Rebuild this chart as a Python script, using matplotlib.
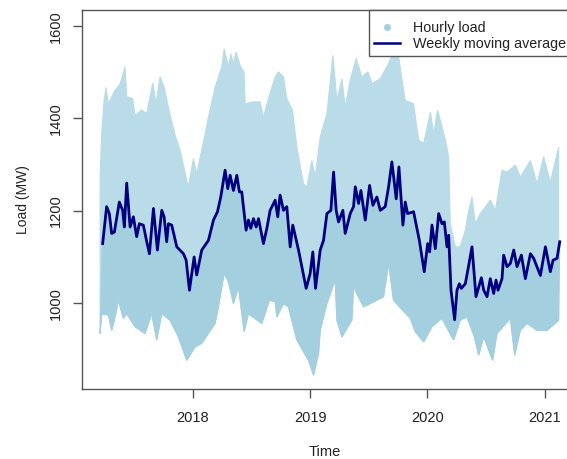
import matplotlib
matplotlib.use("Agg")
import matplotlib.pyplot as plt
from matplotlib.lines import Line2D

plt.rcParams["font.family"] = ["Liberation Sans", "DejaVu Sans"]

# Outline of the hourly load cloud
upper_t = [2017.21,2017.223,2017.243,2017.26,2017.28,2017.337,2017.38,2017.422,2017.436,2017.487,2017.507,2017.564,2017.607,2017.658,2017.686,2017.72,2017.755,2017.806,2017.849,2017.891,2017.948,2017.962,2018.005,2018.033,2018.105,2018.133,2018.19,2018.247,2018.267,2018.304,2018.324,2018.346,2018.369,2018.403,2018.437,2018.446,2018.517,2018.574,2018.602,2018.645,2018.702,2018.73,2018.773,2018.801,2018.85,2018.887,2018.943,2018.972,2019.015,2019.043,2019.086,2019.143,2019.194,2019.228,2019.271,2019.299,2019.342,2019.393,2019.441,2019.493,2019.527,2019.598,2019.669,2019.697,2019.754,2019.783,2019.811,2019.882,2019.925,2019.968,2020.025,2020.053,2020.087,2020.153,2020.181,2020.195,2020.238,2020.28,2020.323,2020.352,2020.38,2020.408,2020.451,2020.536,2020.579,2020.636,2020.679,2020.75,2020.792,2020.878,2020.935,2020.991,2021.048,2021.119]
upper_mw = [1280,1367,1439,1467,1432,1461,1475,1512,1447,1443,1407,1418,1411,1477,1432,1491,1468,1407,1364,1331,1266,1252,1313,1280,1367,1403,1468,1512,1551,1512,1540,1519,1544,1515,1501,1432,1436,1436,1403,1443,1490,1501,1490,1443,1418,1338,1259,1252,1309,1273,1360,1410,1537,1439,1486,1425,1483,1530,1490,1501,1476,1486,1519,1537,1537,1483,1439,1432,1353,1346,1414,1367,1418,1353,1317,1172,1122,1122,1158,1201,1230,1172,1194,1223,1201,1288,1284,1299,1273,1309,1259,1317,1262,1338]

lower_t = [2017.209,2017.223,2017.28,2017.308,2017.337,2017.365,2017.408,2017.436,2017.507,2017.592,2017.65,2017.692,2017.735,2017.806,2017.877,2017.948,2018.019,2018.076,2018.19,2018.218,2018.267,2018.304,2018.346,2018.389,2018.437,2018.474,2018.588,2018.653,2018.702,2018.716,2018.773,2018.815,2018.887,2018.986,2019.029,2019.072,2019.086,2019.143,2019.214,2019.228,2019.271,2019.356,2019.37,2019.456,2019.513,2019.626,2019.669,2019.711,2019.854,2019.897,2019.968,2020.039,2020.124,2020.223,2020.28,2020.337,2020.4,2020.437,2020.48,2020.556,2020.593,2020.707,2020.744,2020.792,2020.849,2020.935,2021.02,2021.119]
lower_mw = [934,977,974,941,970,1006,967,977,949,934,977,920,977,963,927,876,905,913,956,992,1064,1046,999,1035,938,977,956,1006,1003,970,999,992,920,876,844,891,941,999,1050,963,927,963,1035,992,999,1014,1086,1006,967,938,916,949,967,920,963,970,927,887,927,876,934,967,887,941,956,941,941,963]

# Weekly moving average
ma_t = [2017.231,2017.265,2017.288,2017.308,2017.331,2017.373,2017.402,2017.416,2017.436,2017.465,2017.493,2017.521,2017.544,2017.578,2017.607,2017.63,2017.664,2017.698,2017.735,2017.755,2017.777,2017.792,2017.82,2017.863,2017.92,2017.943,2017.971,2018.011,2018.033,2018.076,2018.133,2018.176,2018.21,2018.238,2018.275,2018.298,2018.318,2018.346,2018.375,2018.397,2018.417,2018.454,2018.474,2018.494,2018.517,2018.54,2018.56,2018.602,2018.631,2018.659,2018.702,2018.724,2018.744,2018.773,2018.801,2018.83,2018.852,2018.901,2018.966,2019.0,2019.023,2019.046,2019.069,2019.086,2019.114,2019.143,2019.177,2019.2,2019.222,2019.242,2019.279,2019.299,2019.342,2019.37,2019.385,2019.413,2019.433,2019.47,2019.507,2019.535,2019.569,2019.598,2019.64,2019.669,2019.697,2019.734,2019.757,2019.791,2019.811,2019.831,2019.882,2019.931,2019.973,2020.002,2020.019,2020.039,2020.067,2020.096,2020.124,2020.144,2020.167,2020.181,2020.201,2020.232,2020.252,2020.272,2020.289,2020.323,2020.352,2020.38,2020.414,2020.46,2020.48,2020.508,2020.536,2020.565,2020.585,2020.602,2020.636,2020.65,2020.679,2020.707,2020.736,2020.764,2020.801,2020.835,2020.878,2020.906,2020.963,2021.006,2021.048,2021.071,2021.105,2021.128]
ma_mw = [1129,1209,1194,1151,1154,1219,1201,1165,1260,1165,1187,1144,1172,1169,1133,1107,1205,1115,1201,1187,1133,1172,1169,1122,1107,1093,1028,1100,1061,1115,1136,1180,1198,1230,1288,1248,1277,1244,1277,1241,1241,1158,1180,1162,1183,1165,1183,1129,1162,1201,1223,1187,1234,1201,1209,1122,1169,1115,1032,1064,1111,1032,1079,1115,1136,1194,1201,1284,1201,1176,1201,1151,1194,1209,1252,1216,1244,1180,1255,1212,1230,1201,1209,1252,1306,1226,1295,1169,1219,1194,1198,1136,1068,1129,1111,1169,1118,1194,1172,1176,1122,1147,1028,964,1028,1042,1032,1042,1082,1122,1014,1055,1028,1014,1053,1021,1050,1028,1053,1104,1079,1086,1115,1079,1104,1053,1107,1097,1060,1122,1068,1093,1097,1133]

x_ticks = [2018, 2019, 2020, 2021]
y_ticks = [1000, 1200, 1400, 1600]
x_label = "Time"
y_label = "Load (MW)"
series_names = ["Hourly load", "Weekly moving average"]

CLOUD = "#a3cfdf"
CLOUD_SPARSE = "#b9dce8"
NAVY = "#000080"
SPINE = "#555555"
TEXT = "#222222"

fig = plt.figure(figsize=(5.67, 4.59), dpi=100)
ax = fig.add_axes([82 / 567, 1 - 389 / 459, 1 - 82 / 567, (389 - 10) / 459])

# Sparse upper part of the cloud, then its dense lower part
ax.fill(upper_t + lower_t[::-1], upper_mw + lower_mw[::-1], color=CLOUD_SPARSE, lw=0.8)
ax.fill(ma_t + lower_t[::-1], ma_mw + lower_mw[::-1], color=CLOUD, lw=0.8)
ax.plot(ma_t, ma_mw, color=NAVY, lw=2.0, solid_joinstyle="round")

ax.set_xlim(2017.055, 2021.19)
ax.set_ylim(814, 1635)
ax.set_xticks(x_ticks)
ax.set_yticks(y_ticks)
ax.tick_params(axis="both", length=6.5, width=1, color=SPINE, labelsize=10.5, labelcolor=TEXT)
ax.tick_params(axis="x", pad=9)
ax.tick_params(axis="y", pad=7)
for label in ax.get_yticklabels():
    label.set_rotation(90)
    label.set_va("center")
for name in ("left", "top", "bottom"):
    ax.spines[name].set_color(SPINE)
    ax.spines[name].set_linewidth(1)
ax.spines["right"].set_visible(False)
ax.set_xlabel(x_label, fontsize=10.5, color=TEXT, labelpad=14.5)
ax.set_ylabel(y_label, fontsize=10, color=TEXT, labelpad=14)

handles = [
    Line2D([], [], ls="none", marker="o", ms=4, color=CLOUD),
    Line2D([], [], color=NAVY, lw=1.8),
]
leg = ax.legend(
    handles, series_names, loc="upper left", bbox_to_anchor=((368.5 - 82) / 485, 1),
    borderaxespad=0, fontsize=10.3, fancybox=False, framealpha=1, edgecolor=SPINE,
    borderpad=0.35, labelspacing=0.15, handlelength=1.85, handletextpad=0.9, labelcolor=TEXT,
    title=" ", title_fontsize=3,
)
leg.get_frame().set_linewidth(1)

fig.savefig("out.png", dpi=100)
